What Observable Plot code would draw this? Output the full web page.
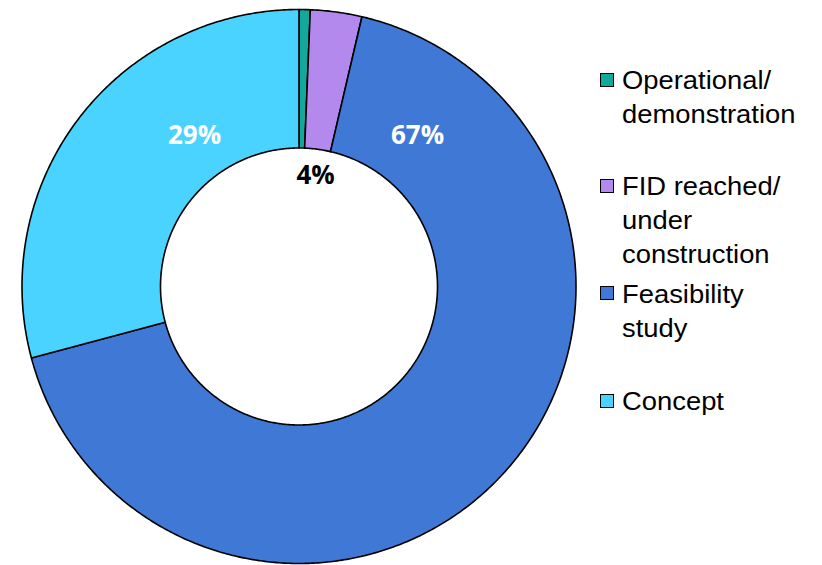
<!DOCTYPE html>
<html><head><meta charset="utf-8">
<script src="https://cdn.jsdelivr.net/npm/d3@7"></script>
<script src="https://cdn.jsdelivr.net/npm/@observablehq/plot@0.6"></script>
<style>
body{margin:0;background:#fff}
#wrap{position:relative;width:822px;height:565px;overflow:hidden}
#wrap svg{position:absolute;left:0;top:0}
.item{position:absolute;left:600px;font-family:"Liberation Sans",Arial,sans-serif;font-size:25px;line-height:34px;color:#000;white-space:nowrap}
.sw{position:absolute;left:0;top:9.5px;width:12px;height:12px;border:1.5px solid #000}
.txt{position:absolute;left:22px;top:0;transform:scaleX(1.095);transform-origin:0 0}
</style></head>
<body><div id="wrap"></div>
<script>
// ---- data ----
const categories = ["Operational/demonstration", "FID reached/under construction", "Feasibility study", "Concept"];
const legendLines = [["Operational/", "demonstration"], ["FID reached/", "under", "construction"], ["Feasibility", "study"], ["Concept"]];
const shares = [0.65, 3.0, 67.2, 29.15];
const colors = ["#12A89C", "#B389EE", "#4079D5", "#4AD3FE"];
const labelTexts = ["4%", "67%", "29%"];

// ---- layout ----
const W = 822, H = 565, cx = 298.5, cy = 286, R = 277, rInner = 138.5 / 277;
const labelPos = [[0.06, -0.399], [0.428, -0.545], [-0.377, -0.545]];
const labelFill = ["#000", "#fff", "#fff"];
const legendTops = [63, 169, 276.5, 384];

const total = d3.sum(shares);
let acc = 0;
const features = categories.map((c, i) => {
  const a0 = acc / total * 2 * Math.PI;
  acc += shares[i];
  const a1 = acc / total * 2 * Math.PI;
  const n = Math.max(2, Math.ceil((a1 - a0) / (Math.PI / 360)));
  const ring = [];
  for (let k = 0; k <= n; k++) { const a = a0 + (a1 - a0) * k / n; ring.push([Math.sin(a), -Math.cos(a)]); }
  for (let k = n; k >= 0; k--) { const a = a0 + (a1 - a0) * k / n; ring.push([rInner * Math.sin(a), -rInner * Math.cos(a)]); }
  ring.push(ring[0]);
  return {type: "Feature", properties: {category: c}, geometry: {type: "Polygon", coordinates: [ring]}};
});

const labels = labelTexts.map((t, i) => ({text: t, x: labelPos[i][0], y: labelPos[i][1], fill: labelFill[i]}));

const chart = Plot.plot({
  width: W, height: H,
  margin: 0,
  projection: () => d3.geoIdentity().scale(R).translate([cx, cy]),
  color: {domain: categories, range: colors},
  marks: [
    Plot.geo(features, {fill: d => d.properties.category, stroke: "#000", strokeWidth: 1.6, strokeLinejoin: "round"}),
    Plot.text(labels.filter(d => d.fill === "#fff"), {x: "x", y: "y", text: "text", fill: "#fff", fontSize: 26, fontWeight: "bold", fontFamily: "'Open Sans', sans-serif"}),
    Plot.text(labels.filter(d => d.fill === "#000"), {x: "x", y: "y", text: "text", fill: "#000", fontSize: 26, fontWeight: "bold", fontFamily: "'Open Sans', sans-serif"})
  ]
});
const wrap = document.getElementById("wrap");
wrap.appendChild(chart);

categories.forEach((c, i) => {
  const item = document.createElement("div");
  item.className = "item";
  item.style.top = legendTops[i] + "px";
  const sw = document.createElement("div");
  sw.className = "sw";
  sw.style.background = colors[i];
  const tx = document.createElement("div");
  tx.className = "txt";
  tx.innerHTML = legendLines[i].join("<br>");
  item.appendChild(sw); item.appendChild(tx);
  wrap.appendChild(item);
});
</script>
</body></html>
